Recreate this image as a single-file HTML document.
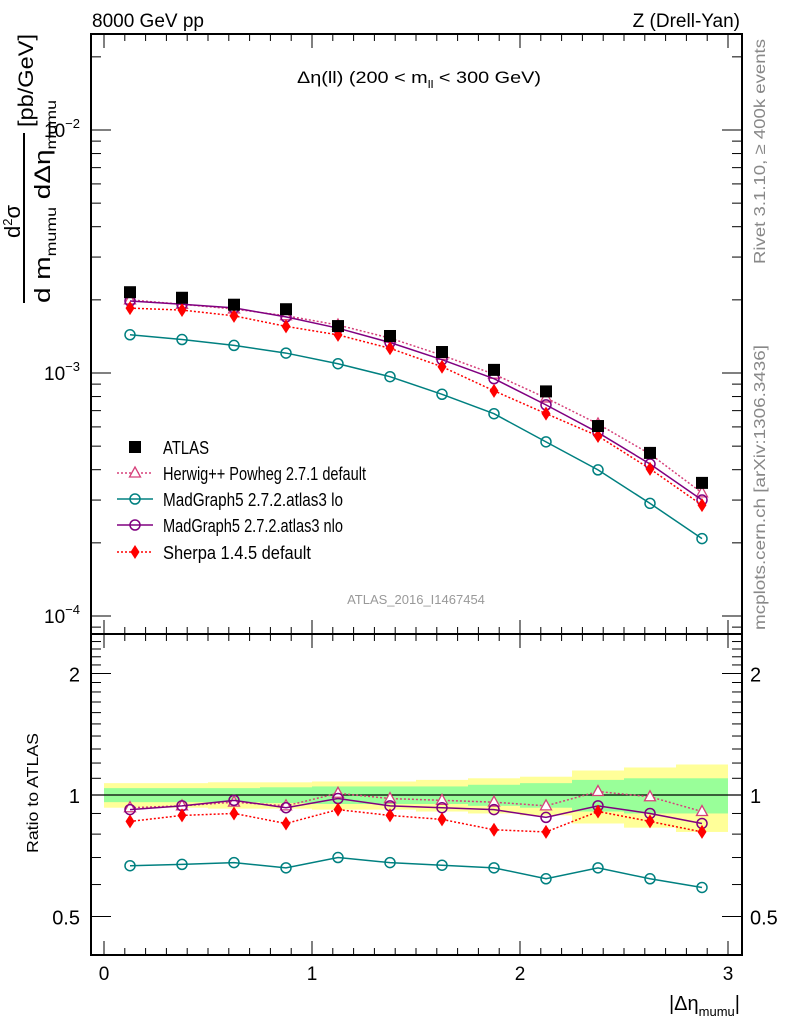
<!DOCTYPE html>
<html><head><meta charset="utf-8"><style>
body{margin:0;background:#fff}
svg{display:block;font-family:"Liberation Sans",sans-serif}
</style></head><body>
<svg id="c" width="786" height="1024" xmlns="http://www.w3.org/2000/svg">
<g id="bands"></g>
<g id="ticks" stroke="#000" stroke-width="1"></g>
<g id="series"></g>
<rect x="91" y="34" width="651" height="600" fill="none" stroke="#000" stroke-width="2"/>
<rect x="91" y="634" width="651" height="321" fill="none" stroke="#000" stroke-width="2"/>
<text x="92" y="27" font-size="19">8000 GeV pp</text>
<text x="740" y="27" font-size="19" text-anchor="end">Z (Drell-Yan)</text>
<text x="297" y="83" font-size="17" textLength="244" lengthAdjust="spacingAndGlyphs">Δη(ll) (200 &lt; m<tspan font-size="11" dy="5">ll</tspan><tspan dy="-5"> &lt; 300 GeV)</tspan></text>
<text x="416" y="604" font-size="13" fill="#999" text-anchor="middle">ATLAS_2016_I1467454</text>
<text transform="translate(765,264) rotate(-90)" font-size="16" fill="#888" textLength="225" lengthAdjust="spacingAndGlyphs">Rivet 3.1.10, ≥ 400k events</text>
<text transform="translate(765,630) rotate(-90)" font-size="16" fill="#888" textLength="285" lengthAdjust="spacingAndGlyphs">mcplots.cern.ch [arXiv:1306.3436]</text>
<g>
<text transform="translate(33,127) rotate(-90)" font-size="21" textLength="93" lengthAdjust="spacingAndGlyphs">[pb/GeV]</text>
<text transform="translate(20,238) rotate(-90)" font-size="22">d<tspan font-size="13" dy="-8">2</tspan><tspan dy="8">σ</tspan></text>
<line x1="24" y1="133" x2="24" y2="303" stroke="#000" stroke-width="2"/>
<text transform="translate(50,303) rotate(-90)" font-size="22" textLength="203" lengthAdjust="spacingAndGlyphs">d m<tspan font-size="14" dy="6">mumu</tspan><tspan dy="-6"> dΔη</tspan><tspan font-size="14" dy="6">mumu</tspan></text>
</g>
<text transform="translate(38,853) rotate(-90)" font-size="16" textLength="120" lengthAdjust="spacingAndGlyphs">Ratio to ATLAS</text>
<text x="740" y="1010" font-size="20" text-anchor="end">|Δη<tspan font-size="13" dy="6">mumu</tspan><tspan dy="-6">|</tspan></text>
<g id="legend"></g>
<g id="labels"></g>
</svg>
<script>
const xCenters=[0.125,0.375,0.625,0.875,1.125,1.375,1.625,1.875,2.125,2.375,2.625,2.875];
const atlas=[2.15e-3,2.04e-3,1.91e-3,1.83e-3,1.56e-3,1.42e-3,1.22e-3,1.03e-3,8.4e-4,6.05e-4,4.69e-4,3.53e-4];
const herwigRatio=[0.93,0.94,0.96,0.94,1.01,0.98,0.97,0.96,0.94,1.02,0.99,0.91];
const mgLoRatio=[0.668,0.673,0.68,0.66,0.70,0.68,0.67,0.66,0.62,0.66,0.62,0.59];
const mgNloRatio=[0.92,0.94,0.97,0.93,0.98,0.94,0.93,0.92,0.88,0.94,0.90,0.85];
const sherpaRatio=[0.86,0.89,0.90,0.85,0.92,0.89,0.87,0.82,0.81,0.91,0.86,0.81];
const totErr=[0.07,0.07,0.075,0.075,0.08,0.08,0.09,0.10,0.11,0.15,0.17,0.19];
const statErr=[0.04,0.04,0.04,0.045,0.05,0.05,0.05,0.06,0.07,0.09,0.10,0.10];
const xTickLabels=["0","1","2","3"];
const ratioTickLabels=["0.5","1","2"];

const NS="http://www.w3.org/2000/svg";
const X=v=>104+v*208;
const Y=v=>130-(Math.log10(v)+2)*243;
const R=v=>795-Math.log2(v)*121.5;
function mk(t,a,p){const e=document.createElementNS(NS,t);for(const k in a)e.setAttribute(k,a[k]);p.appendChild(e);return e;}
const gT=document.getElementById('ticks'),gS=document.getElementById('series'),gB=document.getElementById('bands'),gL=document.getElementById('labels'),gLeg=document.getElementById('legend');

[[totErr,'#ffff99'],[statErr,'#99ff99']].forEach(([err,col],k)=>{
  xCenters.forEach((x,i)=>{
    const r=mk('rect',{x:X(x-0.125),y:R(1+err[i]),width:208*0.25,height:R(1-err[i])-R(1+err[i]),fill:col},gB);
    
    
  });
});
const ref=mk('line',{x1:91,x2:742,y1:R(1),y2:R(1),stroke:'#000','stroke-width':1.2},gB);



for(let i=0;i<=30;i++){const v=i/10,x=X(v),maj=i%10==0,l=maj?14:7;
  mk('line',{x1:x,x2:x,y1:34,y2:34+l},gT);
  mk('line',{x1:x,x2:x,y1:634,y2:634-l},gT);
  mk('line',{x1:x,x2:x,y1:634,y2:634+l},gT);
  mk('line',{x1:x,x2:x,y1:955,y2:955-l},gT);
}
xTickLabels.forEach(s=>{const t=mk('text',{x:X(+s),y:980,'font-size':19,'text-anchor':'middle'},gL);t.textContent=s;
  
  });
for(let d=-5;d<=-2;d++)for(let m=1;m<=9;m++){const v=m*Math.pow(10,d),y=Y(v);if(y<34||y>634)continue;const l=m==1?20:10;
  mk('line',{x1:91,x2:91+l,y1:y,y2:y},gT);mk('line',{x1:742,x2:742-l,y1:y,y2:y},gT);}
[[-2,130],[-3,373],[-4,616]].forEach(([p,y])=>{const t=mk('text',{x:80,y:y+7,'font-size':19,'text-anchor':'end'},gL);
  t.innerHTML='10<tspan font-size="13" dy="-9">'+'\u2212'+(-p)+'</tspan>';
  
  });
const rt=[0.4,0.5,0.6,0.7,0.8,0.9,1,1.1,1.2,1.3,1.4,1.5,1.6,1.7,1.8,1.9,2,2.1,2.2,2.3,2.4,2.5];
rt.forEach(v=>{const y=R(v);if(y<635||y>954)return;const l=(v==0.5||v==1||v==2)?20:10;
  mk('line',{x1:91,x2:91+l,y1:y,y2:y},gT);mk('line',{x1:742,x2:742-l,y1:y,y2:y},gT);});
ratioTickLabels.forEach(s=>{[[80,'end'],[750,'start']].forEach(([x,a])=>{const t=mk('text',{x:x,y:R(+s)+8,'font-size':20,'text-anchor':a},gL);t.textContent=s;
  
  });});

function marker(type,x,y,col,g){
  if(type=='sq') return mk('rect',{x:x-6,y:y-6,width:12,height:12,fill:'#000'},g);
  if(type=='tri') return mk('path',{d:`M${x},${y-6}L${x+5.5},${y+4}L${x-5.5},${y+4}Z`,fill:'#fff',stroke:col,'stroke-width':1.3},g);
  if(type=='circ') return mk('circle',{cx:x,cy:y,r:5,fill:'none',stroke:col,'stroke-width':1.5},g);
  if(type=='dia') return mk('path',{d:`M${x},${y-7}L${x+4.5},${y}L${x},${y+7}L${x-4.5},${y}Z`,fill:col},g);
}
const models=[
 ['herwig',herwigRatio,'#d6407a','tri','2,2','Herwig++ Powheg 2.7.1 default'],
 ['madgraph-lo',mgLoRatio,'#008080','circ',null,'MadGraph5 2.7.2.atlas3 lo'],
 ['madgraph-nlo',mgNloRatio,'#800080','circ',null,'MadGraph5 2.7.2.atlas3 nlo'],
 ['sherpa',sherpaRatio,'#ff0000','dia','2,2','Sherpa 1.4.5 default']];
const legLen=[203,180,180,148];
models.forEach(([nm,rat,col,mt,dash,label])=>{
  const g=mk('g',{},gS);
  
  
  const pm=xCenters.map((x,i)=>X(x)+','+Y(atlas[i]*rat[i])).join(' ');
  const pr=xCenters.map((x,i)=>X(x)+','+R(rat[i])).join(' ');
  const a={fill:'none',stroke:col,'stroke-width':1.5};if(dash)a['stroke-dasharray']=dash;
  mk('polyline',Object.assign({points:pm},a),g);mk('polyline',Object.assign({points:pr},a),g);
  xCenters.forEach((x,i)=>{const m1=marker(mt,X(x),Y(atlas[i]*rat[i]),col,g);
    
    
    const m2=marker(mt,X(x),R(rat[i]),col,g);
    
    });
});
xCenters.forEach((x,i)=>{const m=marker('sq',X(x),Y(atlas[i]),'#000',gS);
  
  });
const legY=[447,473,499,525,552];
[['atlas',null,'#000','sq',null,'ATLAS']].concat(models).forEach((m,k)=>{
  const [nm,,col,mt,dash,label]=m,y=legY[k];
  const g=mk('g',{},gLeg);
  
  
  if(mt!='sq'){const a={x1:117,x2:153,y1:y,y2:y,stroke:col,'stroke-width':1.5};if(dash)a['stroke-dasharray']=dash;mk('line',a,g);}
  marker(mt,135,y,col,g);
  const t=mk('text',{x:163,y:y+7,'font-size':18,textLength:k?legLen[k-1]:46,lengthAdjust:'spacingAndGlyphs'},g);t.textContent=label;
});
</script>
</body></html>
